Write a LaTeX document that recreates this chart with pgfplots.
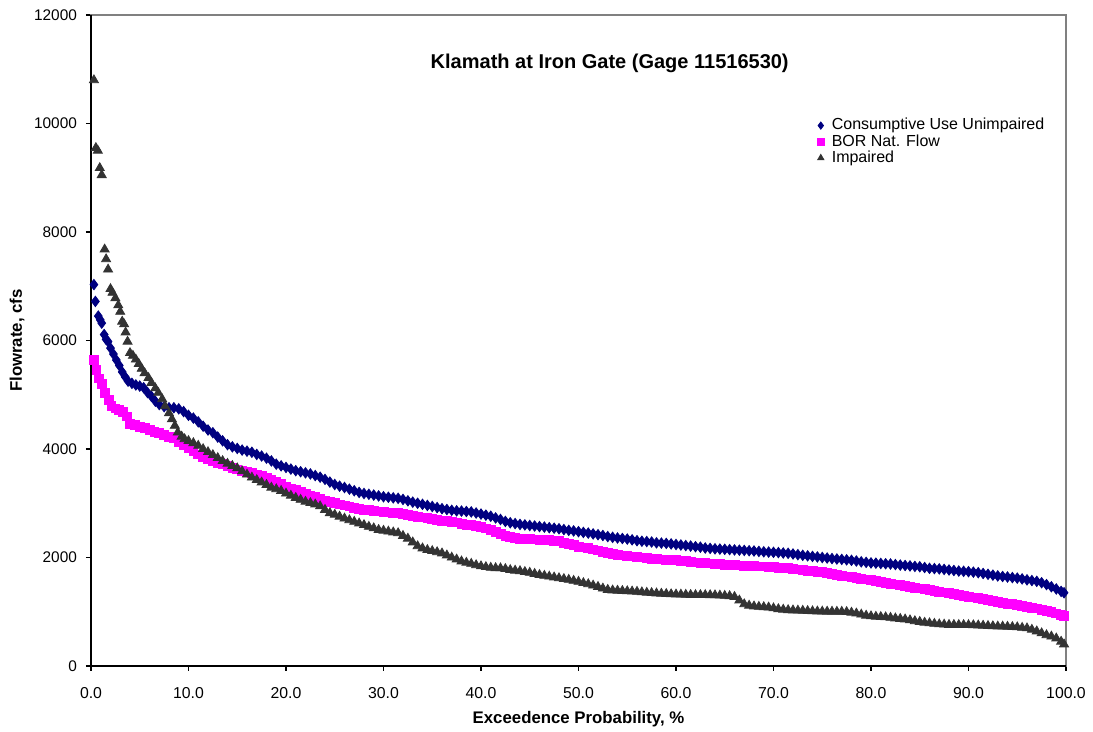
\documentclass[border=0pt]{standalone}
\usepackage{fontspec}
\setmainfont{Liberation Sans}
\usepackage{pgfplots}
\pgfplotsset{compat=1.18}
\definecolor{cuBlue}{RGB}{0,0,128}
\definecolor{borMag}{RGB}{255,0,255}
\definecolor{impGray}{RGB}{51,51,51}
\begin{document}
\begin{tikzpicture}
\path[use as bounding box] (0,0) rectangle (546.5pt,366pt);
\begin{axis}[
  at={(45.5pt,33pt)}, anchor=south west,
  scale only axis, width=487.5pt, height=325.5pt,
  xmin=0, xmax=100, ymin=0, ymax=12000,
  xtick={0,10,...,100}, ytick={0,2000,...,12000},
  tick align=outside, xtick pos=bottom, ytick pos=left,
  major tick length=2.5pt,
  tick style={black, line width=0.6pt},
  axis line style={draw=gray, line width=0.8pt},
  /pgf/number format/assume math mode=true,
  xticklabel style={font=\fontsize{7.9}{9}\selectfont, yshift=-4.5pt, /pgf/number format/.cd, fixed, fixed zerofill, precision=1},
  yticklabel style={font=\fontsize{7.7}{9}\selectfont, xshift=-1pt, /pgf/number format/.cd, fixed, 1000 sep={}},
  scaled ticks=false,
  xlabel={\bfseries Exceedence Probability, \%},
  ylabel={\bfseries Flowrate, cfs},
  xlabel style={font=\fontsize{8.4}{10}\selectfont, at={(axis description cs:0.5,-0.0814)}, anchor=center},
  ylabel style={font=\fontsize{8.4}{10}\selectfont, at={(axis description cs:-0.0757,0.5)}, anchor=center},
  legend style={draw=none, fill=none, at={(rel axis cs:0.744,0.845)}, anchor=north west,
    font=\fontsize{8}{9}\selectfont, inner sep=0pt, row sep=-1.2pt,
    nodes={inner sep=1pt}},
  legend cell align=left,
  legend image code/.code={\path[draw=none,fill=none] (1pt,0pt) rectangle (7.5pt,0.1pt); \draw[#1, mark size=1.8pt] plot coordinates {(3pt,0pt)};},
  clip=false,
]
\addplot[only marks, mark=diamond*, mark size=2.6pt, color=cuBlue] coordinates {
(0.3,7030)(0.45,6720)(0.75,6450)(0.95,6380)(1.1,6320)(1.35,6110)(1.55,6020)(1.75,5980)(2.0,5860)(2.3,5750)(2.6,5640)(2.9,5540)(3.2,5420)(3.5,5330)(3.8,5250)(4.2,5210)(4.6,5180)(5.0,5160)(5.4,5130)(5.8,5040)(6.2,4970)(6.6,4880)(7.0,4820)(7.5,4780)(8.0,4760)(8.5,4760)(9.0,4740)(9.5,4690)
(10.0,4620)(10.5,4570)(11.0,4500)(11.5,4420)(12.0,4350)(12.5,4300)(13.0,4220)(13.5,4150)(14.0,4080)(14.5,4040)(15.0,4010)(15.5,3980)(16.0,3960)(16.5,3940)(17.0,3900)(17.5,3870)(18.0,3830)(18.5,3780)(19.0,3720)(19.5,3690)
(20.0,3660)(20.5,3630)(21.0,3600)(21.5,3580)(22.0,3560)(22.5,3540)(23.0,3510)(23.5,3480)(24.0,3440)(24.5,3390)(25.0,3345)(25.5,3315)(26.0,3290)(26.5,3260)(27.0,3230)(27.5,3200)(28.0,3180)(28.5,3165)(29.0,3150)(29.5,3135)
(30.0,3120)(30.5,3110)(31.0,3100)(31.5,3090)(32.0,3070)(32.5,3045)(33.0,3020)(33.5,3000)(34.0,2980)(34.5,2960)(35.0,2940)(35.5,2920)(36.0,2900)(36.5,2885)(37.0,2870)(37.5,2860)(38.0,2855)(38.5,2848)(39.0,2840)(39.5,2820)
(40.0,2800)(40.5,2780)(41.0,2760)(41.5,2730)(42.0,2700)(42.5,2665)(43.0,2640)(43.5,2625)(44.0,2610)(44.5,2600)(45.0,2590)(45.5,2580)(46.0,2570)(46.5,2560)(47.0,2550)(47.5,2540)(48.0,2530)(48.5,2515)(49.0,2500)(49.5,2490)
(50.0,2476)(50.5,2462)(51.0,2450)(51.5,2435)(52.0,2420)(52.5,2405)(53.0,2386)(53.5,2372)(54.0,2360)(54.5,2350)(55.0,2340)(55.5,2325)(56.0,2310)(56.5,2300)(57.0,2294)(57.5,2285)(58.0,2270)(58.5,2265)(59.0,2260)(59.5,2250)
(60.0,2240)(60.5,2230)(61.0,2220)(61.5,2210)(62.0,2200)(62.5,2190)(63.0,2175)(63.5,2168)(64.0,2160)(64.5,2155)(65.0,2150)(65.5,2145)(66.0,2140)(66.5,2135)(67.0,2130)(67.5,2125)(68.0,2120)(68.5,2112)(69.0,2105)(69.5,2100)
(70.0,2095)(70.5,2090)(71.0,2083)(71.5,2077)(72.0,2065)(72.5,2052)(73.0,2040)(73.5,2030)(74.0,2020)(74.5,2010)(75.0,2000)(75.5,1990)(76.0,1980)(76.5,1972)(77.0,1965)(77.5,1957)(78.0,1948)(78.5,1935)(79.0,1920)(79.5,1910)
(80.0,1900)(80.5,1895)(81.0,1890)(81.5,1885)(82.0,1880)(82.5,1870)(83.0,1860)(83.5,1852)(84.0,1845)(84.5,1836)(85.0,1830)(85.5,1815)(86.0,1800)(86.5,1795)(87.0,1790)(87.5,1780)(88.0,1770)(88.5,1760)(89.0,1750)(89.5,1745)
(90.0,1739)(90.5,1730)(91.0,1720)(91.5,1705)(92.0,1690)(92.5,1675)(93.0,1660)(93.5,1650)(94.0,1640)(94.5,1630)(95.0,1620)(95.5,1605)(96.0,1588)(96.5,1575)(97.0,1560)(97.5,1535)(98.0,1500)(98.5,1460)(99.0,1420)(99.5,1375)(99.8,1350)
};
\addlegendentry{Consumptive Use Unimpaired}
\addplot[only marks, mark=square*, mark size=2.2pt, color=borMag] coordinates {
(0.3,5640)(0.55,5460)(0.8,5300)(1.1,5200)(1.4,5040)(1.8,4910)(2.1,4800)(2.5,4750)(2.9,4720)(3.3,4680)(3.7,4600)(4.0,4460)(4.5,4440)(5.0,4410)(5.5,4390)(6.0,4350)(6.5,4320)(7.0,4295)(7.5,4260)(8.0,4230)(8.5,4200)(9.0,4130)(9.5,4070)
(10.0,4010)(10.5,3960)(11.0,3900)(11.5,3860)(12.0,3810)(12.5,3780)(13.0,3750)(13.5,3720)(14.0,3690)(14.5,3655)(15.0,3625)(15.5,3600)(16.0,3585)(16.5,3565)(17.0,3530)(17.5,3500)(18.0,3470)(18.5,3440)(19.0,3400)(19.5,3360)
(20.0,3310)(20.5,3275)(21.0,3240)(21.5,3205)(22.0,3170)(22.5,3140)(23.0,3110)(23.5,3080)(24.0,3050)(24.5,3025)(25.0,3000)(25.5,2980)(26.0,2960)(26.5,2940)(27.0,2920)(27.5,2900)(28.0,2880)(28.5,2870)(29.0,2860)(29.5,2850)
(30.0,2840)(30.5,2832)(31.0,2825)(31.5,2815)(32.0,2800)(32.5,2785)(33.0,2770)(33.5,2755)(34.0,2740)(34.5,2725)(35.0,2710)(35.5,2695)(36.0,2680)(36.5,2670)(37.0,2660)(37.5,2645)(38.0,2625)(38.5,2605)(39.0,2595)(39.5,2578)
(40.0,2560)(40.5,2535)(41.0,2510)(41.5,2470)(42.0,2430)(42.5,2400)(43.0,2384)(43.5,2365)(44.0,2350)(44.5,2345)(45.0,2340)(45.5,2335)(46.0,2330)(46.5,2325)(47.0,2320)(47.5,2310)(48.0,2300)(48.5,2275)(49.0,2250)(49.5,2225)
(50.0,2200)(50.5,2185)(51.0,2170)(51.5,2150)(52.0,2130)(52.5,2105)(53.0,2080)(53.5,2065)(54.0,2050)(54.5,2040)(55.0,2030)(55.5,2020)(56.0,2010)(56.5,2000)(57.0,1988)(57.5,1978)(58.0,1970)(58.5,1965)(59.0,1960)(59.5,1955)
(60.0,1950)(60.5,1940)(61.0,1930)(61.5,1920)(62.0,1910)(62.5,1903)(63.0,1896)(63.5,1892)(64.0,1885)(64.5,1877)(65.0,1870)(65.5,1865)(66.0,1860)(66.5,1855)(67.0,1850)(67.5,1845)(68.0,1840)(68.5,1837)(69.0,1834)(69.5,1831)
(70.0,1823)(70.5,1815)(71.0,1808)(71.5,1801)(72.0,1790)(72.5,1780)(73.0,1770)(73.5,1760)(74.0,1750)(74.5,1740)(75.0,1730)(75.5,1715)(76.0,1700)(76.5,1685)(77.0,1668)(77.5,1652)(78.0,1638)(78.5,1622)(79.0,1610)(79.5,1595)
(80.0,1580)(80.5,1565)(81.0,1550)(81.5,1535)(82.0,1520)(82.5,1505)(83.0,1490)(83.5,1475)(84.0,1458)(84.5,1442)(85.0,1430)(85.5,1415)(86.0,1400)(86.5,1385)(87.0,1370)(87.5,1355)(88.0,1340)(88.5,1325)(89.0,1310)(89.5,1295)
(90.0,1278)(90.5,1265)(91.0,1250)(91.5,1235)(92.0,1220)(92.5,1200)(93.0,1180)(93.5,1165)(94.0,1150)(94.5,1140)(95.0,1130)(95.5,1112)(96.0,1096)(96.5,1078)(97.0,1060)(97.5,1040)(98.0,1020)(98.5,995)(99.0,970)(99.5,945)(99.8,925)
};
\addlegendentry{BOR Nat. Flow}
\addplot[only marks, mark=triangle*, mark size=2.6pt, color=impGray] coordinates {
(0.3,10800)(0.5,9550)(0.7,9500)(0.9,9180)(1.1,9050)(1.4,7680)(1.55,7500)(1.75,7310)(2.0,6950)(2.2,6880)(2.5,6780)(2.8,6650)(3.0,6530)(3.2,6350)(3.4,6300)(3.55,6150)(3.75,5980)(4.0,5770)(4.3,5720)(4.6,5650)(4.9,5570)(5.2,5480)(5.5,5400)(5.9,5310)(6.2,5220)(6.6,5120)(6.9,5037)(7.3,4920)(7.6,4790)(8.0,4660)(8.3,4549)(8.6,4430)(8.9,4305)(9.3,4230)(9.6,4183)
(10.0,4150)(10.5,4110)(11.0,4061)(11.5,4000)(12.0,3945)(12.5,3890)(13.0,3835)(13.5,3780)(14.0,3730)(14.5,3690)(15.0,3645)(15.5,3590)(16.0,3530)(16.5,3475)(17.0,3430)(17.5,3385)(18.0,3340)(18.5,3290)(19.0,3260)(19.5,3230)
(20.0,3180)(20.5,3140)(21.0,3100)(21.5,3065)(22.0,3030)(22.5,3005)(23.0,2980)(23.5,2945)(24.0,2880)(24.5,2820)(25.0,2790)(25.5,2755)(26.0,2720)(26.5,2690)(27.0,2660)(27.5,2630)(28.0,2600)(28.5,2568)(29.0,2540)(29.5,2510)
(30.0,2495)(30.5,2480)(31.0,2465)(31.5,2450)(32.0,2400)(32.5,2350)(33.0,2280)(33.5,2210)(34.0,2170)(34.5,2140)(35.0,2120)(35.5,2100)(36.0,2077)(36.5,2040)(37.0,2000)(37.5,1965)(38.0,1930)(38.5,1905)(39.0,1885)(39.5,1860)
(40.0,1840)(40.5,1825)(41.0,1812)(41.5,1806)(42.0,1802)(42.5,1790)(43.0,1770)(43.5,1760)(44.0,1750)(44.5,1735)(45.0,1720)(45.5,1700)(46.0,1680)(46.5,1665)(47.0,1650)(47.5,1635)(48.0,1620)(48.5,1605)(49.0,1590)(49.5,1572)
(50.0,1554)(50.5,1530)(51.0,1510)(51.5,1485)(52.0,1460)(52.5,1430)(53.0,1405)(53.5,1395)(54.0,1390)(54.5,1385)(55.0,1380)(55.5,1375)(56.0,1370)(56.5,1360)(57.0,1352)(57.5,1346)(58.0,1340)(58.5,1335)(59.0,1330)(59.5,1325)
(60.0,1320)(60.5,1318)(61.0,1315)(61.5,1312)(62.0,1310)(62.5,1310)(63.0,1309)(63.5,1308)(64.0,1305)(64.5,1300)(65.0,1295)(65.5,1290)(66.0,1275)(66.5,1210)(67.0,1140)(67.5,1115)(68.0,1100)(68.5,1093)(69.0,1087)(69.5,1080)
(70.0,1065)(70.5,1050)(71.0,1040)(71.5,1032)(72.0,1027)(72.5,1023)(73.0,1020)(73.5,1015)(74.0,1010)(74.5,1007)(75.0,1005)(75.5,1004)(76.0,1003)(76.5,1002)(77.0,1001)(77.5,997)(78.0,985)(78.5,970)(79.0,950)(79.5,930)
(80.0,918)(80.5,910)(81.0,905)(81.5,900)(82.0,890)(82.5,880)(83.0,870)(83.5,860)(84.0,845)(84.5,828)(85.0,815)(85.5,800)(86.0,790)(86.5,780)(87.0,770)(87.5,765)(88.0,760)(88.5,759)(89.0,758)(89.5,757)
(90.0,756)(90.5,753)(91.0,750)(91.5,745)(92.0,740)(92.5,735)(93.0,730)(93.5,728)(94.0,725)(94.5,720)(95.0,715)(95.5,705)(96.0,696)(96.5,670)(97.0,640)(97.5,605)(98.0,570)(98.5,545)(99.0,510)(99.5,450)(99.8,400)
};
\addlegendentry{Impaired}
\draw[black, line width=0.8pt] (rel axis cs:0,1) -- (rel axis cs:0,0) -- (rel axis cs:1,0);
\node[font=\fontsize{10}{12}\selectfont\bfseries, anchor=center] at (rel axis cs:0.532,0.926) {Klamath at Iron Gate (Gage 11516530)};
\end{axis}
\end{tikzpicture}
\end{document}
